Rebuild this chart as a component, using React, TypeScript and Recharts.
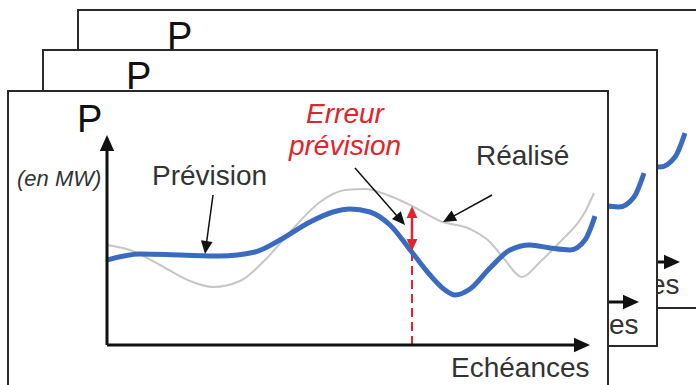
import { LineChart, Line, XAxis, YAxis, ReferenceLine } from 'recharts';

const previsionX = [0, 33, 73, 113, 148, 173, 203, 226, 243, 263, 283, 304, 323, 338, 348, 363, 383, 403, 423, 443, 463, 478, 488];
const previsionP = [85, 91, 90, 89, 93, 105, 123, 133, 136, 133, 120, 94, 70, 55, 50, 56, 77, 95, 100, 97, 95, 105, 129];
const realiseX = [0, 23, 53, 83, 106, 133, 158, 183, 213, 238, 258, 283, 305, 333, 363, 383, 398, 415, 433, 453, 478, 487];
const realiseP = [100, 95, 80, 64, 58, 64, 85, 113, 143, 155, 156, 149, 139, 124, 116, 103, 85, 68, 83, 103, 133, 152];

// échéance où l'erreur est montrée
const erreurX = 305;
const erreurHaut = 139;
const erreurBas = 94;

const prevision = previsionX.map((x, i) => ({ x, y: previsionP[i] }));
const realise = realiseX.map((x, i) => ({ x, y: realiseP[i] }));

const FONT = '"Liberation Sans", Arial, sans-serif';
const BLUE = '#3a6bc0';
const RED = '#e3232b';

function ArrowShape(props: any) {
  const { x1, y1, x2, y2, stroke, strokeWidth, strokeDasharray, head = 12, both = false } = props;
  const a = Math.atan2(y2 - y1, x2 - x1);
  const hw = head * 0.45;
  const tri = (x: number, y: number, ang: number) => {
    const bx = x - head * Math.cos(ang);
    const by = y - head * Math.sin(ang);
    return `${x},${y} ${bx + hw * Math.sin(ang)},${by - hw * Math.cos(ang)} ${bx - hw * Math.sin(ang)},${by + hw * Math.cos(ang)}`;
  };
  const sx = both ? x1 + (head - 2) * Math.cos(a) : x1;
  const sy = both ? y1 + (head - 2) * Math.sin(a) : y1;
  const ex = x2 - (head - 2) * Math.cos(a);
  const ey = y2 - (head - 2) * Math.sin(a);
  return (
    <g>
      <line x1={sx} y1={sy} x2={ex} y2={ey} stroke={stroke} strokeWidth={strokeWidth} strokeDasharray={strokeDasharray} />
      <polygon points={tri(x2, y2, a)} fill={stroke} />
      {both && <polygon points={tri(x1, y1, a + Math.PI)} fill={stroke} />}
    </g>
  );
}

function Page({ full }: { full: boolean }) {
  return (
    <>
      <div style={{ position: 'absolute', left: 87, top: 110 }}>
        <LineChart width={530} height={255} margin={{ top: 20, right: 20, bottom: 20, left: 20 }}>
          <XAxis type="number" dataKey="x" domain={[0, 490]} allowDataOverflow hide />
          <YAxis type="number" domain={[0, 215]} allowDataOverflow hide />
          {full && (
            <ReferenceLine
              segment={[{ x: erreurX, y: 0 }, { x: erreurX, y: erreurBas }]}
              stroke={RED}
              strokeWidth={2}
              strokeDasharray="9 5"
              ifOverflow="visible"
            />
          )}
          {full && (
            <Line data={realise} dataKey="y" type="monotone" stroke="#c6c6c6" strokeWidth={2} dot={false} isAnimationActive={false} />
          )}
          <Line data={prevision} dataKey="y" type="monotone" stroke={BLUE} strokeWidth={5} dot={false} isAnimationActive={false} />
          <ReferenceLine
            segment={[{ x: 0, y: 0 }, { x: 0, y: 210 }]}
            stroke="#111"
            strokeWidth={3}
            ifOverflow="visible"
            shape={(p: any) => <ArrowShape {...p} head={16} />}
          />
          <ReferenceLine
            segment={[{ x: 0, y: 0 }, { x: 483, y: 0 }]}
            stroke="#111"
            strokeWidth={3}
            ifOverflow="visible"
            shape={(p: any) => <ArrowShape {...p} head={16} />}
          />
          {full && (
            <ReferenceLine
              segment={[{ x: erreurX, y: erreurBas }, { x: erreurX, y: erreurHaut }]}
              stroke={RED}
              strokeWidth={2.5}
              ifOverflow="visible"
              shape={(p: any) => <ArrowShape {...p} head={12} both />}
            />
          )}
          {full && (
            <ReferenceLine
              segment={[{ x: 106, y: 150 }, { x: 98, y: 91 }]}
              stroke="#111"
              strokeWidth={1.5}
              ifOverflow="visible"
              shape={(p: any) => <ArrowShape {...p} head={13} />}
            />
          )}
          {full && (
            <ReferenceLine
              segment={[{ x: 248, y: 177 }, { x: 298, y: 120 }]}
              stroke="#111"
              strokeWidth={1.5}
              ifOverflow="visible"
              shape={(p: any) => <ArrowShape {...p} head={13} />}
            />
          )}
          {full && (
            <ReferenceLine
              segment={[{ x: 385, y: 150 }, { x: 336, y: 123 }]}
              stroke="#111"
              strokeWidth={1.5}
              ifOverflow="visible"
              shape={(p: any) => <ArrowShape {...p} head={13} />}
            />
          )}
        </LineChart>
      </div>
      <svg width={696} height={385} style={{ position: 'absolute', left: 0, top: 0, overflow: 'visible' }}>
        <text x={77} y={132} fontSize={38} fontFamily={FONT} fill="#111">P</text>
        <text x={451} y={377} fontSize={28} fontFamily={FONT} fill="#333">Echéances</text>
        {full && (
          <>
            <text x={17} y={186} fontSize={22} fontStyle="italic" fontFamily={FONT} fill="#333">(en MW)</text>
            <text x={152} y={185} fontSize={28} fontFamily={FONT} fill="#333">Prévision</text>
            <text x={345} y={123} fontSize={28} fontStyle="italic" textAnchor="middle" fontFamily={FONT} fill={RED}>Erreur</text>
            <text x={345} y={155} fontSize={28} fontStyle="italic" textAnchor="middle" fontFamily={FONT} fill={RED}>prévision</text>
            <text x={476} y={165} fontSize={28} fontFamily={FONT} fill="#333">Réalisé</text>
          </>
        )}
      </svg>
    </>
  );
}

function Frame({ left, top, right, bottom, dx, dy, full, z }: any) {
  return (
    <div
      style={{
        position: 'absolute',
        left,
        top,
        width: right - left,
        height: bottom - top,
        border: '2px solid #2a2a2a',
        boxSizing: 'border-box',
        background: '#fff',
        overflow: 'hidden',
        zIndex: z,
      }}
    >
      <div style={{ position: 'absolute', left: -left - 2 + dx, top: -top - 2 + dy, width: 696, height: 385 }}>
        <Page full={full} />
      </div>
    </div>
  );
}

export default function App() {
  return (
    <div style={{ position: 'absolute', left: 0, top: 0, width: 696, height: 385, overflow: 'hidden', background: '#fff' }}>
      <Frame left={77} top={9} right={720} bottom={309} dx={90} dy={-83} full={false} z={1} />
      <Frame left={42} top={49} right={658} bottom={347} dx={49} dy={-43} full={false} z={2} />
      <Frame left={7} top={90} right={609} bottom={420} dx={0} dy={0} full z={3} />
    </div>
  );
}
